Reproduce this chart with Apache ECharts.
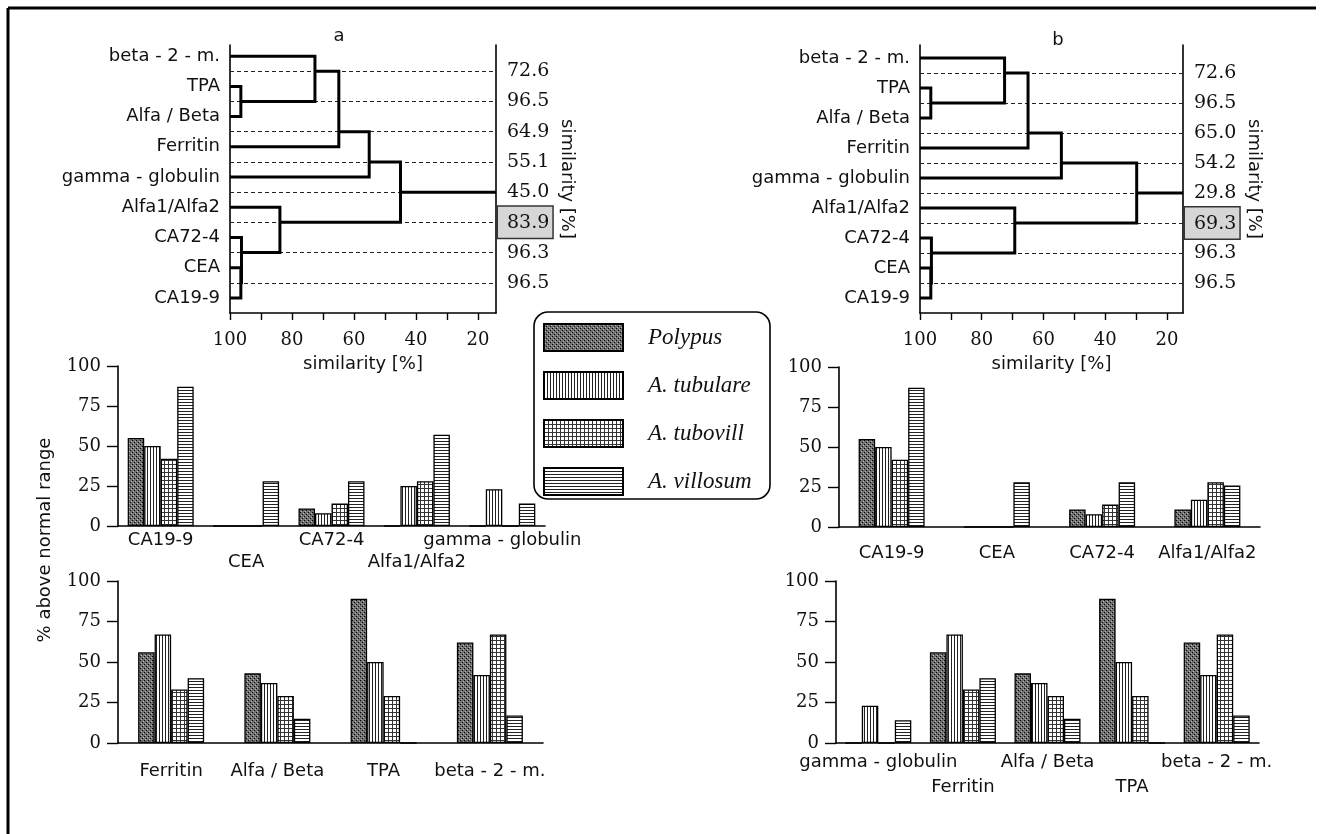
<!DOCTYPE html>
<html><head><meta charset="utf-8">
<script src="https://cdn.jsdelivr.net/npm/echarts@6/dist/echarts.min.js"></script>
<style>html,body{margin:0;padding:0;background:#fff}#c{width:1324px;height:834px}</style>
</head><body><div id="c"></div><script>
// ---------- data ----------
const seriesNames = ['Polypus', 'A. tubulare', 'A. tubovill', 'A. villosum'];

const leaves = ['beta - 2 - m.', 'TPA', 'Alfa / Beta', 'Ferritin', 'gamma - globulin', 'Alfa1/Alfa2', 'CA72-4', 'CEA', 'CA19-9'];
// similarity at which adjacent leaves join (gap between leaf i and i+1)
const simA = [72.6, 96.5, 64.9, 55.1, 45.0, 83.9, 96.3, 96.5];
const simALabels = ['72.6', '96.5', '64.9', '55.1', '45.0', '83.9', '96.3', '96.5'];
const simB = [72.6, 96.5, 65.0, 54.2, 29.8, 69.3, 96.3, 96.5];
const simBLabels = ['72.6', '96.5', '65.0', '54.2', '29.8', '69.3', '96.3', '96.5'];
const boxedGap = 5;
const simTicks = [100, 80, 60, 40, 20];
const simMinorTicks = [100, 90, 80, 70, 60, 50, 40, 30, 20];

// panel a, top
const catATop = ['CA19-9', 'CEA', 'CA72-4', 'Alfa1/Alfa2', 'gamma - globulin'];
const aTopPolypus  = [55, 0, 11, 0, 0];
const aTopTubulare = [50, 0, 8, 25, 23];
const aTopTubovill = [42, 0, 14, 28, 0];
const aTopVillosum = [87, 28, 28, 57, 14];
// panel a, bottom
const catABot = ['Ferritin', 'Alfa / Beta', 'TPA', 'beta - 2 - m.'];
const aBotPolypus  = [56, 43, 89, 62];
const aBotTubulare = [67, 37, 50, 42];
const aBotTubovill = [33, 29, 29, 67];
const aBotVillosum = [40, 15, 0, 17];
// panel b, top
const catBTop = ['CA19-9', 'CEA', 'CA72-4', 'Alfa1/Alfa2'];
const bTopPolypus  = [55, 0, 11, 11];
const bTopTubulare = [50, 0, 8, 17];
const bTopTubovill = [42, 0, 14, 28];
const bTopVillosum = [87, 28, 28, 26];
// panel b, bottom
const catBBot = ['gamma - globulin', 'Ferritin', 'Alfa / Beta', 'TPA', 'beta - 2 - m.'];
const bBotPolypus  = [0, 56, 43, 89, 62];
const bBotTubulare = [23, 67, 37, 50, 42];
const bBotTubovill = [0, 33, 29, 29, 67];
const bBotVillosum = [14, 40, 15, 0, 17];

// ---------- patterns ----------
function pat(w, h, draw) {
  const c = document.createElement('canvas'); c.width = w; c.height = h;
  const g = c.getContext('2d'); draw(g);
  return { image: c, repeat: 'repeat' };
}
const patterns = [
  pat(4, 4, g => { g.fillStyle = '#707070'; g.fillRect(0,0,4,4); g.fillStyle = '#000'; g.fillRect(0,0,1,1); g.fillRect(2,2,1,1); g.fillStyle = '#b5b5b5'; g.fillRect(1,3,1,1); g.fillRect(3,1,1,1); }),
  pat(3, 1, g => { g.fillStyle = '#fff'; g.fillRect(0,0,3,1); g.fillStyle = '#222'; g.fillRect(0,0,1,1); }),
  pat(4, 4, g => { g.fillStyle = '#fff'; g.fillRect(0,0,4,4); g.fillStyle = '#333'; g.fillRect(0,0,4,1); g.fillRect(0,0,1,4); }),
  pat(1, 3, g => { g.fillStyle = '#fff'; g.fillRect(0,0,1,3); g.fillStyle = '#222'; g.fillRect(0,0,1,1); })
];

// ---------- dendrogram builder ----------
function dendro(gaps, xMin) {
  const segs = [];
  function rec(i, j) {
    if (i === j) return { sim: 100, y: i };
    let k = i;
    for (let t = i; t < j; t++) if (gaps[t] < gaps[k]) k = t;
    const L = rec(i, k), R = rec(k + 1, j), s = gaps[k];
    segs.push({ coords: [[L.sim, L.y], [s, L.y], [s, R.y], [R.sim, R.y]] });
    return { sim: s, y: k + 0.5 };
  }
  const root = rec(0, gaps.length);
  segs.push({ coords: [[root.sim, root.y], [xMin, root.y]] });
  const dashed = gaps.map((s, i) => ({ coords: [[100, i + 0.5], [xMin, i + 0.5]] }));
  return { segs, dashed };
}

const SANS = 'DejaVu Sans', SERIF = 'DejaVu Serif';
const INK = '#111';
const xMinA = 14.2, xMinB = 14.8;
const dA = dendro(simA, xMinA), dB = dendro(simB, xMinB);

function dendroX(grid, xMin) {
  return {
    type: 'value', gridIndex: grid, min: xMin, max: 100, inverse: true, position: 'bottom',
    axisLine: { show: true, onZero: false, lineStyle: { color: '#000', width: 1.6 } },
    axisTick: { show: true, inside: false, length: 7, customValues: simMinorTicks, lineStyle: { color: '#000', width: 1.4 } },
    axisLabel: { customValues: simTicks, margin: 18, fontFamily: SERIF, fontSize: 18, color: INK },
    splitLine: { show: false },
    name: 'similarity [%]', nameLocation: 'middle', nameGap: 42,
    nameTextStyle: { fontFamily: SANS, fontSize: 18, color: INK }
  };
}
function dendroYLeft(grid, yMin) {
  return {
    type: 'value', gridIndex: grid, min: yMin, max: 8.5, inverse: true, position: 'left',
    axisLine: { show: true, onZero: false, lineStyle: { color: '#000', width: 1.6 } },
    axisTick: { show: false }, splitLine: { show: false },
    axisLabel: { customValues: leaves.map((_, i) => i), formatter: v => leaves[Math.round(v)], margin: 10, fontFamily: SANS, fontSize: 18, color: INK }
  };
}
function dendroYRight(grid, yMin, labels) {
  return {
    type: 'value', gridIndex: grid, min: yMin, max: 8.5, inverse: true, position: 'right',
    axisLine: { show: true, onZero: false, lineStyle: { color: '#000', width: 1.6 } },
    axisTick: { show: false }, splitLine: { show: false },
    axisLabel: {
      customValues: labels.map((_, i) => i + 0.5), margin: 2,
      formatter: v => { const i = Math.round(v - 0.5); return (i === boxedGap ? '{b|' : '{n|') + labels[i] + '}'; },
      rich: {
        n: { fontFamily: SERIF, fontSize: 19, color: INK, padding: [0, 0, 0, 9] },
        b: { fontFamily: SERIF, fontSize: 19, color: INK, padding: [7, 3, 5, 9], backgroundColor: '#d6d6d6', borderColor: '#333', borderWidth: 1.5 }
      }
    },
    name: 'similarity [%]', nameLocation: 'middle', nameGap: 60, nameRotate: -90,
    nameTextStyle: { fontFamily: SANS, fontSize: 18, color: INK }
  };
}
function barX(grid, cats, margin, lineHeight, stagger) {
  return {
    type: 'category', gridIndex: grid, data: cats,
    axisLine: { show: true, lineStyle: { color: '#000', width: 1.6 } },
    axisTick: { show: false },
    axisLabel: { interval: 0, margin, lineHeight, fontFamily: SANS, fontSize: 18, color: INK,
      formatter: (v, i) => (stagger && i % 2 === 1) ? '\n' + v : v }
  };
}
function barY(grid) {
  return {
    type: 'value', gridIndex: grid, min: 0, max: 100, interval: 25,
    axisLine: { show: true, lineStyle: { color: '#000', width: 1.6 } },
    axisTick: { show: true, inside: false, length: 11, lineStyle: { color: '#000', width: 1.4 } },
    axisLabel: { margin: 17, fontFamily: SERIF, fontSize: 18, color: INK },
    splitLine: { show: false }
  };
}
function bars(xi, yi, arrs) {
  return arrs.map((d, k) => ({
    type: 'bar', name: seriesNames[k], xAxisIndex: xi, yAxisIndex: yi, data: d,
    barWidth: 16.5, barGap: '0%',
    itemStyle: { color: patterns[k], borderColor: '#000', borderWidth: 1.3 }
  }));
}

const option = {
  animation: false,
  backgroundColor: '#fff',
  grid: [
    { left: 230, top: 45, width: 266, height: 268 },
    { left: 920, top: 45, width: 263, height: 268 },
    { left: 118, top: 366, width: 427, height: 160 },
    { left: 118, top: 581, width: 425, height: 162 },
    { left: 839, top: 367, width: 421, height: 160 },
    { left: 836, top: 581, width: 423, height: 162 }
  ],
  xAxis: [
    dendroX(0, xMinA), dendroX(1, xMinB),
    barX(2, catATop, 3, 22, true),
    barX(3, catABot, 18, 20, false),
    barX(4, catBTop, 16, 20, false),
    barX(5, catBBot, 7, 25, true)
  ],
  yAxis: [
    dendroYLeft(0, -0.37), dendroYRight(0, -0.37, simALabels),
    dendroYLeft(1, -0.43), dendroYRight(1, -0.43, simBLabels),
    barY(2), barY(3), barY(4), barY(5)
  ],
  legend: {
    data: seriesNames, orient: 'vertical', left: 543, top: 323, padding: 0,
    itemWidth: 79, itemHeight: 27, itemGap: 19, icon: 'rect', selectedMode: false,
    formatter: n => '{t|' + n + '}',
    textStyle: { rich: { t: { fontFamily: 'Liberation Serif', fontStyle: 'italic', fontSize: 23, color: INK, padding: [0, 0, 0, 20] } } }
  },
  graphic: [
    { type: 'line', shape: { x1: 8, y1: 8, x2: 1316, y2: 8 }, style: { stroke: '#000', lineWidth: 3 } },
    { type: 'line', shape: { x1: 8, y1: 8, x2: 8, y2: 834 }, style: { stroke: '#000', lineWidth: 3 } },
    { type: 'rect', shape: { x: 534, y: 312, width: 236, height: 187, r: 14 }, style: { fill: 'rgba(0,0,0,0)', stroke: '#000', lineWidth: 1.6 } },
    { type: 'text', x: 339, y: 36, style: { text: 'a', font: '18px "DejaVu Sans"', fill: INK, textAlign: 'center', textVerticalAlign: 'middle' } },
    { type: 'text', x: 1058, y: 40, style: { text: 'b', font: '18px "DejaVu Sans"', fill: INK, textAlign: 'center', textVerticalAlign: 'middle' } },
    { type: 'text', x: 45, y: 540, rotation: Math.PI / 2, style: { text: '% above normal range', font: '18px "DejaVu Sans"', fill: INK, textAlign: 'center', textVerticalAlign: 'middle' } }
  ],
  series: [
    { type: 'lines', coordinateSystem: 'cartesian2d', xAxisIndex: 0, yAxisIndex: 0, polyline: false, silent: true, z: 1,
      lineStyle: { color: '#222', width: 1.2, type: [4, 3], opacity: 1 }, data: dA.dashed },
    { type: 'lines', coordinateSystem: 'cartesian2d', xAxisIndex: 0, yAxisIndex: 0, polyline: true, silent: true, z: 3,
      lineStyle: { color: '#000', width: 3, opacity: 1 }, data: dA.segs },
    { type: 'lines', coordinateSystem: 'cartesian2d', xAxisIndex: 1, yAxisIndex: 2, polyline: false, silent: true, z: 1,
      lineStyle: { color: '#222', width: 1.2, type: [4, 3], opacity: 1 }, data: dB.dashed },
    { type: 'lines', coordinateSystem: 'cartesian2d', xAxisIndex: 1, yAxisIndex: 2, polyline: true, silent: true, z: 3,
      lineStyle: { color: '#000', width: 3, opacity: 1 }, data: dB.segs },
    ...bars(2, 4, [aTopPolypus, aTopTubulare, aTopTubovill, aTopVillosum]),
    ...bars(3, 5, [aBotPolypus, aBotTubulare, aBotTubovill, aBotVillosum]),
    ...bars(4, 6, [bTopPolypus, bTopTubulare, bTopTubovill, bTopVillosum]),
    ...bars(5, 7, [bBotPolypus, bBotTubulare, bBotTubovill, bBotVillosum])
  ]
};
const chart = echarts.init(document.getElementById('c'), null, { renderer: 'canvas' });
chart.setOption(option);
</script></body></html>
